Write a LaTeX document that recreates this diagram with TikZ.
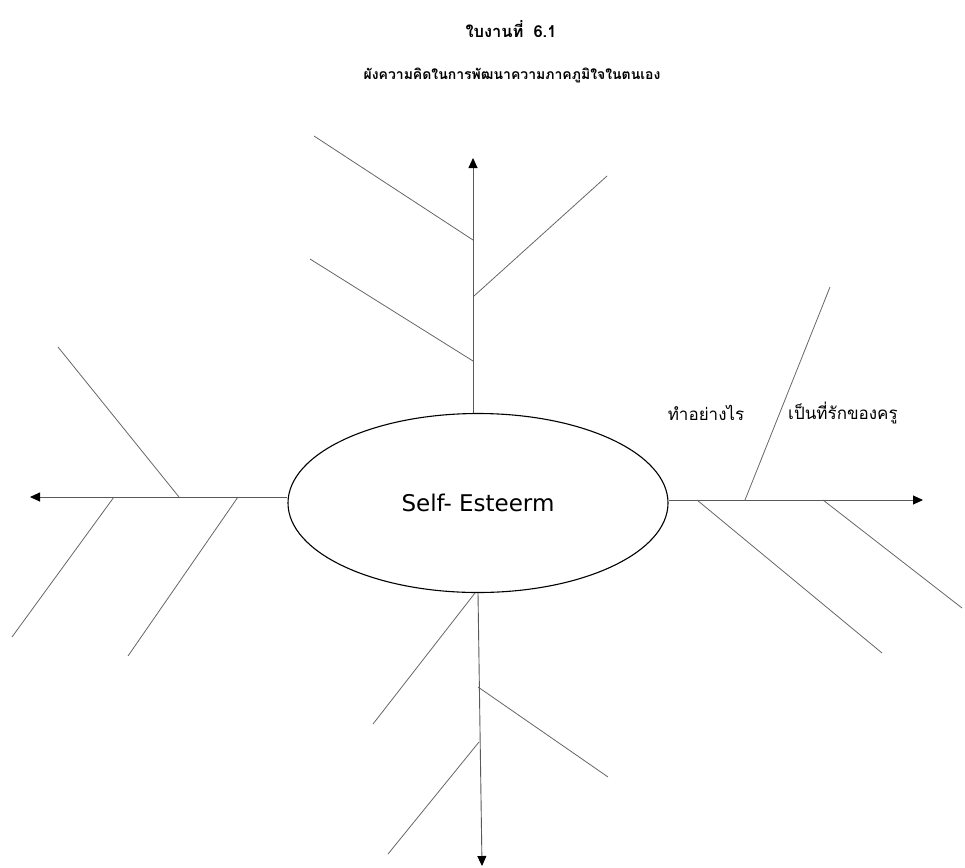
\documentclass[tikz,border=0pt]{standalone}
\usepackage{fontspec}
\setmainfont{DejaVu Sans}
\newfontfamily\thaifont[Script=Thai]{Loma}
\usepackage{tikz}
\usetikzlibrary{arrows.meta,positioning,shapes.geometric,calc}

\begin{document}
\begin{tikzpicture}[x=1pt, y=-1pt,
        hub/.style={draw, ellipse, line width=1.1pt, minimum width=380pt, minimum height=179pt,
                    inner sep=0pt, font=\fontsize{23}{27}\selectfont},
        spine/.style={-{Triangle[length=10pt, width=9pt, color=black]}, draw=black!65, line width=0.9pt},
        bone/.style={draw=black!60, line width=0.8pt},
        ttl/.style={font=\thaifont\bfseries\fontsize{14}{16}\selectfont},
        lbl/.style={font=\thaifont\fontsize{17}{20}\selectfont, inner sep=0pt},
    ]
    \useasboundingbox (0,0) rectangle (965,867);

    % Titles
    \node[ttl, font=\thaifont\bfseries\fontsize{16.5}{18}\selectfont] (title) at (511,29) {ใบงานที่\hspace{10pt}6.1};
    \node[ttl] (subtitle) at (512,75) {ผังความคิดในการพัฒนาความภาคภูมิใจในตนเอง};

    % Central idea
    \node[hub] (core) at (478,503) {Self- Esteerm};

    % Spine tips
    \coordinate (toptip) at (473,158);
    \coordinate (lefttip) at (30,497);
    \coordinate (righttip) at (923,500);
    \coordinate (bottip) at (482,866);

    \draw[spine] (toptip |- core.north) -- (toptip);
    \draw[spine] (lefttip -| core.west) -- (lefttip);
    \draw[spine] (righttip -| core.east) -- (righttip);
    \draw[spine] (core.south) -- (bottip);

    % Top bones
    \coordinate (t1) at (473,240); \coordinate (t1e) at (314,136);
    \coordinate (t2) at (474,296); \coordinate (t2e) at (607,176);
    \coordinate (t3) at (473,361); \coordinate (t3e) at (310,259);
    \draw[bone] (t1) -- (t1e);
    \draw[bone] (t2) -- (t2e);
    \draw[bone] (t3) -- (t3e);

    % Left bones
    \coordinate (l1) at (179,497); \coordinate (l1e) at (58,347);
    \coordinate (l2) at (114,497); \coordinate (l2e) at (12,637);
    \coordinate (l3) at (238,497); \coordinate (l3e) at (128,656);
    \draw[bone] (l1) -- (l1e);
    \draw[bone] (l2) -- (l2e);
    \draw[bone] (l3) -- (l3e);

    % Right bones
    \coordinate (r1) at (745,500); \coordinate (r1e) at (830,287);
    \coordinate (r2) at (697,500); \coordinate (r2e) at (882,653);
    \coordinate (r3) at (823,500); \coordinate (r3e) at (962,608);
    \draw[bone] (r1) -- (r1e);
    \draw[bone] (r2) -- (r2e);
    \draw[bone] (r3) -- (r3e);

    % Bottom bones
    \coordinate (b1) at (475,593); \coordinate (b1e) at (373,724);
    \coordinate (b2) at (478,687); \coordinate (b2e) at (608,777);
    \coordinate (b3) at (479,742); \coordinate (b3e) at (388,854);
    \draw[bone] (b1) -- (b1e);
    \draw[bone] (b2) -- (b2e);
    \draw[bone] (b3) -- (b3e);

    % Labels on the right bone
    \node[lbl] (how) at (706,413) {ทำอย่างไร};
    \node[lbl, anchor=west] (loved) at (788,413) {เป็นที่รักของครู};
\end{tikzpicture}
\end{document}
